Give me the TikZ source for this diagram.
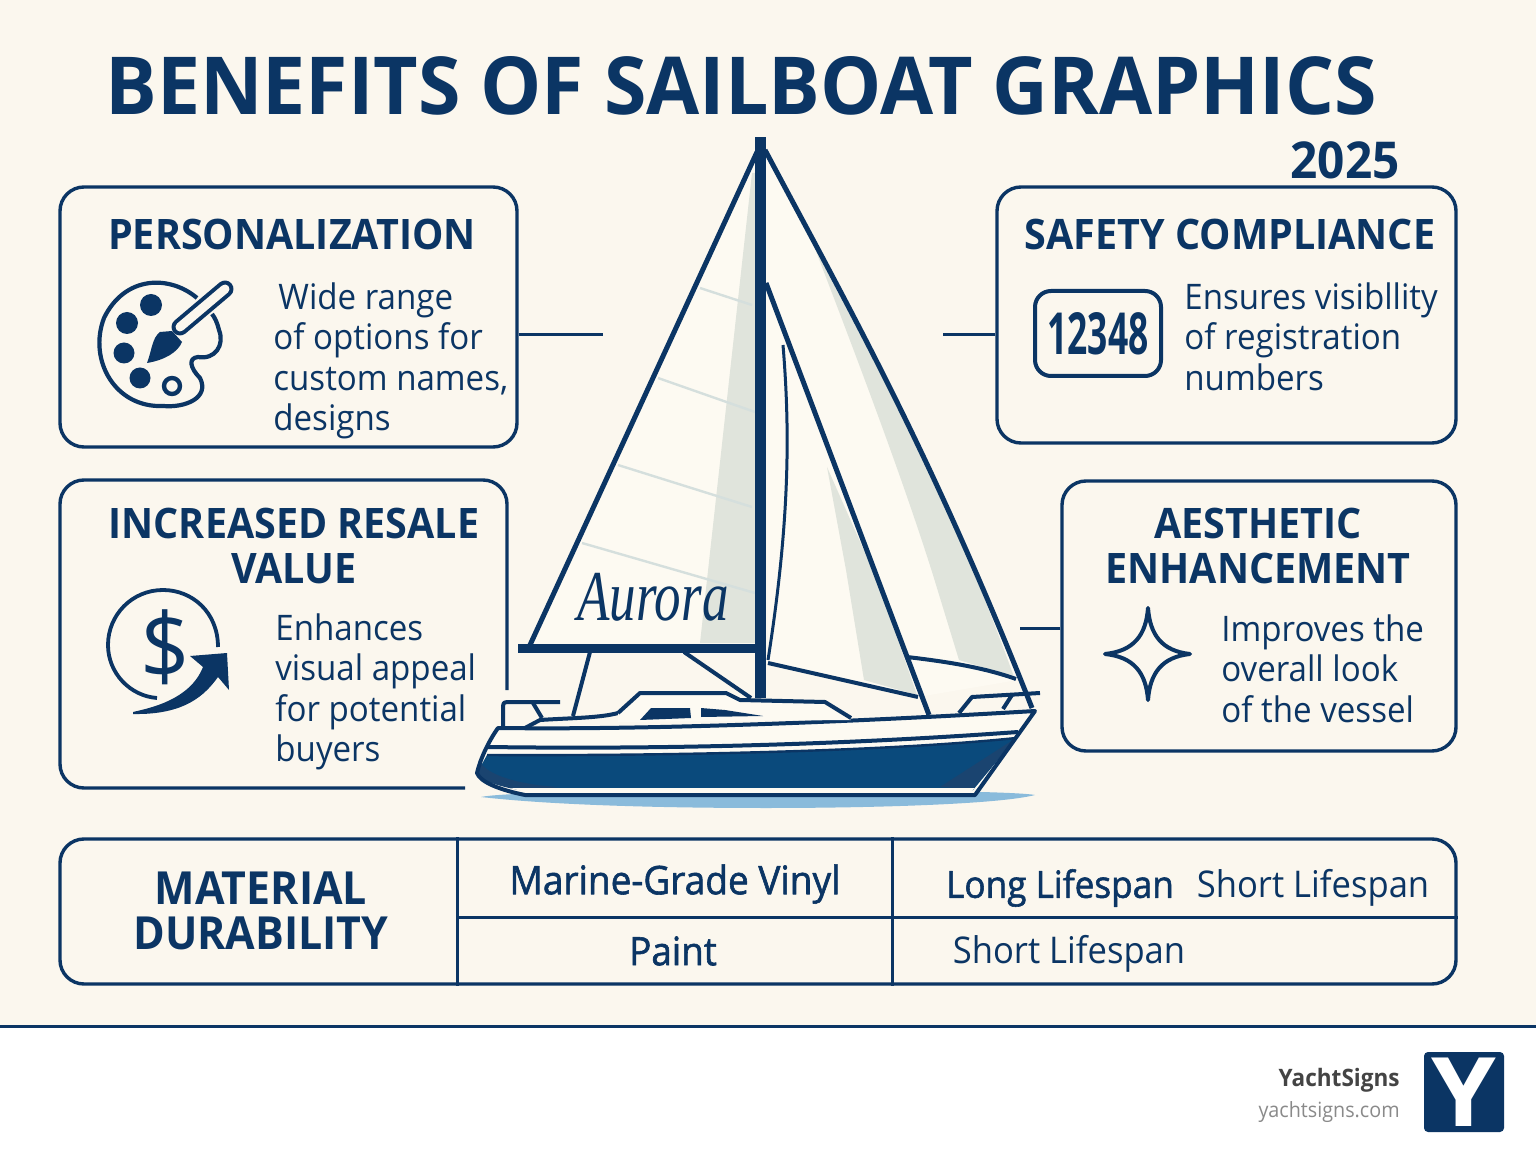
\documentclass[tikz,border=0pt]{standalone}
\usepackage{fontspec}
\setmainfont[FakeStretch=0.94]{Open Sans}
\newfontfamily\medfont[FakeStretch=0.94,FakeBold=1.5]{Open Sans}
\newfontfamily\namefont{Liberation Serif}
\usepackage{tikz}
\usetikzlibrary{calc}
\definecolor{navy}{HTML}{0B3564}
\definecolor{paper}{HTML}{FBF7EE}
\definecolor{sailwhite}{HTML}{FDFAF2}
\definecolor{sailshade}{HTML}{E0E4DC}
\definecolor{batten}{HTML}{D5DFDD}
\definecolor{hullblue}{HTML}{0A4A7C}
\definecolor{hulldark}{HTML}{1A4470}
\definecolor{water}{HTML}{8ABBDB}
\definecolor{footgrey}{HTML}{444444}
\definecolor{urlgrey}{HTML}{8A8A8A}

\begin{document}
\begin{tikzpicture}[x=0.5pt,y=-0.5pt,
  line join=round,
  panel/.style={draw=navy,line width=1.7pt,rounded corners=12pt,inner sep=0pt},
  panelline/.style={draw=navy,line width=1.7pt,rounded corners=12pt},
  stub/.style={draw=navy,line width=1.5pt},
  rope/.style={draw=navy,line width=2pt},
  heading/.style={font=\bfseries\fontsize{21}{22.5}\selectfont,text=navy,align=center,inner sep=0pt},
  bodytext/.style={font=\fontsize{17.6}{20.3}\selectfont,text=navy,align=left,anchor=north west,inner sep=0pt},
  celltext/.style={font=\fontsize{18.4}{20.3}\selectfont,text=navy,inner sep=0pt},
  medtext/.style={font=\medfont\fontsize{18.7}{20.3}\selectfont,text=navy,inner sep=0pt}]

  \useasboundingbox (0,0) rectangle (1536,1154);

  % Background
  \fill[paper] (0,0) rectangle (1536,1154);
  \fill[white] (0,1026) rectangle (1536,1154);
  \coordinate (ruleleft) at (0,1026);
  \coordinate (ruleright) at (1536,1026);
  \draw[navy,line width=1.5pt] (ruleleft) -- (ruleright);

  % Title
  \node[font=\bfseries\fontsize{40}{44}\selectfont,text=navy,xscale=1.024,inner sep=0pt] (title) at (741,86) {BENEFITS OF SAILBOAT GRAPHICS};
  \node[font=\bfseries\fontsize{25.4}{28}\selectfont,text=navy,inner sep=0pt] (year) at (1345,160) {2025};

  % Panels
  \node[panel,minimum width=228.5pt,minimum height=130pt] (personal) at (288.5,317) {};
  \node[panel,minimum width=229.5pt,minimum height=128pt] (safety) at (1226.5,315) {};
  \node[panel,minimum width=197pt,minimum height=135pt] (aesthetic) at (1259,616) {};
  \draw[panelline] (507,690) -- (507,480) -- (60,480) -- (60,788) -- (465,788);

  % Stubs towards the boat
  \coordinate (stubone) at (603,335);
  \coordinate (stubtwo) at (943,335);
  \coordinate (stubthree) at (1020,628);
  \draw[stub] (stubone -| personal.east) -- (stubone);
  \draw[stub] (stubtwo -| safety.west) -- (stubtwo);
  \draw[stub] (stubthree -| aesthetic.west) -- (stubthree);

  % Panel texts
  \node[heading] (personalhead) at (292,234) {PERSONALIZATION};
  \node[bodytext] (personaltext) at (273,282) {\hspace*{2.5pt}Wide range\\of options for\\custom names,\\designs};
  \node[heading] (safetyhead) at (1230,234) {SAFETY COMPLIANCE};
  \node[bodytext] (safetytext) at (1184,282) {Ensures visibllity\\of registration\\numbers};
  \node[heading] (resalehead) at (294,546) {INCREASED RESALE\\VALUE};
  \node[bodytext] (resaletext) at (275,613) {Enhances\\visual appeal\\for potential\\buyers};
  \node[heading] (aesthetichead) at (1258,546) {AESTHETIC\\ENHANCEMENT};
  \node[bodytext] (aesthetictext) at (1221,614) {Improves the\\overall look\\of the vessel};

  % Palette icon
  \draw[navy,line width=2.1pt,fill=none] (197,298) .. controls (170,275) and (125,275) .. (104,318)
    .. controls (88,360) and (115,408) .. (163,406)
    .. controls (185,408) and (210,398) .. (200,378)
    .. controls (190,368) and (188,358) .. (198,357)
    .. controls (215,360) and (225,345) .. (219,330)
    .. controls (217,322) and (215,318) .. (212,314);
  \fill[navy] (151,305) circle[radius=11];
  \fill[navy] (127,323) circle[radius=11];
  \fill[navy] (124,353) circle[radius=10.5];
  \fill[navy] (140,378) circle[radius=10.5];
  \draw[navy,line width=2.2pt,fill=paper] (172,386) circle[radius=8];
  \coordinate (brushlow) at (180,327);
  \coordinate (brushtop) at (225,289);
  \draw[navy,line width=8.5pt,line cap=round] (brushlow) -- (brushtop);
  \draw[paper,line width=4.5pt,line cap=round] (brushlow) -- (brushtop);
  \fill[navy] (147,363) .. controls (152,350) and (152,338) .. (160,332)
    -- (172,331) -- (182,342) .. controls (178,352) and (165,360) .. cycle;

  % Badge icon
  \node[draw=navy,line width=2pt,rounded corners=8pt,minimum width=63pt,minimum height=42.5pt,inner sep=0pt] (badge) at (1098,333.5) {};
  \node[font=\bfseries\fontsize{29}{32}\selectfont,text=navy,xscale=0.65,inner sep=0pt] (badgetext) at (badge) {12348};

  % Dollar icon
  \draw[navy,line width=1.9pt] (218,647) .. controls (218,612) and (192,590) .. (163,590)
    .. controls (132,590) and (108,615) .. (108,645)
    .. controls (108,673) and (130,696) .. (157,698);
  \node[font=\fontsize{46}{48}\selectfont,text=navy,inner sep=0pt] (dollar) at (165,647) {\$};
  \fill[navy] (133,712) .. controls (150,708) and (190,700) .. (203,667)
    -- (190,656) -- (227,653) -- (229,690) -- (218,677)
    .. controls (205,695) and (185,715) .. (133,714) -- cycle;

  % Star icon
  \draw[navy,line width=2pt] (1148,608) .. controls (1150,635) and (1162,651) .. (1190,654)
    .. controls (1162,657) and (1150,673) .. (1148,700)
    .. controls (1146,673) and (1134,657) .. (1105,654)
    .. controls (1134,651) and (1146,635) .. cycle;

  % Table
  \node[panel,minimum width=698pt,minimum height=72.5pt] (matbox) at (758,911.5) {};
  \coordinate (colone) at (457,0);
  \coordinate (coltwo) at (892,0);
  \coordinate (rowline) at (0,917);
  \draw[stub] (colone |- matbox.north) -- (colone |- matbox.south);
  \draw[stub] (coltwo |- matbox.north) -- (coltwo |- matbox.south);
  \draw[stub] (colone |- rowline) -- (rowline -| matbox.east);
  \node[heading,font=\bfseries\fontsize{22.8}{22.5}\selectfont] (mathead) at (261,911) {MATERIAL\\DURABILITY};
  \node[medtext,font=\medfont\fontsize{19.7}{20.3}\selectfont] (vinyl) at (675,884) {Marine-Grade Vinyl};
  \node[medtext,font=\medfont\fontsize{19.6}{20.3}\selectfont] (paint) at (673,951) {Paint};
  \node[medtext] (longlife) at (1060,888) {Long Lifespan};
  \node[celltext] (shortone) at (1313,888) {Short Lifespan};
  \node[celltext] (shorttwo) at (1069,954) {Short Lifespan};

  % Water
  \fill[water] (481,797) .. controls (560,806) and (680,808) .. (766,808)
    .. controls (880,808) and (1000,804) .. (1035,795) .. controls (1000,788) and (520,788) .. cycle;

  % Genoa
  \fill[sailwhite] (765,150) .. controls (850,310) and (930,450) .. (1018,680) -- (918,697) -- (768,663) -- (765,280) -- cycle;
  \fill[sailshade] (809,233) .. controls (850,340) and (900,470) .. (933,575) -- (959,660) -- (1014,677)
    .. controls (950,500) and (880,360) .. cycle;
  \fill[sailshade] (827,467) -- (846,570) -- (864,680) -- (917,695) -- (877,580) -- cycle;

  % Mainsail
  \fill[sailwhite] (757,152) -- (530,645) -- (756,645) -- cycle;
  \fill[sailshade] (752,173) -- (700,643) -- (756,643) -- (756,173) -- cycle;
  \foreach \xa/\ya/\xb/\yb in {700/288/752/305,658/378/755/412,618/465/752/507,582/543/755/593}
    \draw[batten,line width=1.2pt] (\xa,\ya) -- (\xb,\yb);

  % Rigging
  \draw[rope,line width=2.5pt] (757,152) -- (530,645);
  \draw[rope,line width=2.5pt] (765,150) .. controls (850,310) and (930,450) .. (1032,708);
  \draw[rope,line width=2.5pt] (766,283) -- (929,715);
  \draw[rope,line width=1.5pt] (783,345) .. controls (790,430) and (790,520) .. (768,660);
  \draw[rope] (907,657) .. controls (950,662) and (985,668) .. (1016,679);
  \draw[rope] (768,663) -- (918,697);
  \draw[rope] (590,652) -- (573,716);
  \draw[rope] (684,652) -- (751,698);
  \fill[navy] (755,137) rectangle (765.5,698);
  \fill[navy] (518,644) rectangle (765,653);

  % Mainsail name
  \node[font=\namefont\itshape\fontsize{26.5}{30}\selectfont,text=navy,yscale=1.35,inner sep=0pt] (boatname) at (653,597) {Aurora};

  % Hull
  \fill[sailwhite] (498,728) .. controls (650,730) and (850,722) .. (1035,711)
    -- (975,795) -- (525,795) .. controls (500,790) and (480,782) .. (477,773) .. controls (480,760) and (488,742) .. cycle;
  \fill[hullblue] (487,755) .. controls (700,756) and (900,750) .. (1016,738)
    -- (973,790) -- (525,790) .. controls (500,786) and (480,782) .. (477,773) -- cycle;
  \fill[hulldark] (1016,738) -- (940,787) -- (973,789) -- cycle;
  \fill[hulldark] (479,760) .. controls (485,775) and (520,785) .. (559,787) -- (525,791) .. controls (500,787) and (482,781) .. (477,773) -- cycle;
  \fill[sailwhite] (510,788) -- (975,788) -- (970,792) -- (525,792) -- cycle;
  \draw[rope] (498,728) .. controls (650,730) and (850,722) .. (1035,711)
    -- (975,795) -- (525,795) .. controls (500,790) and (480,782) .. (477,773) .. controls (480,760) and (488,742) .. cycle;
  \draw[rope] (488,747) .. controls (700,750) and (880,742) .. (1018,732);
  \draw[rope,line width=1.2pt] (487,755) .. controls (700,756) and (900,750) .. (1016,738);
  \draw[rope] (525,728) -- (540,720) .. controls (570,718) and (600,718) .. (618,713);

  % Cabin
  \fill[sailwhite] (618,713) -- (640,693) -- (726,693) -- (740,700) -- (825,702) -- (851,720) -- (618,722) -- cycle;
  \draw[rope] (618,713) -- (640,693) -- (726,693) -- (740,700) -- (825,702) -- (851,718);
  \fill[navy] (651,708) -- (690,708) -- (691,718) -- (640,720) -- cycle;
  \fill[navy] (701,708) -- (725,710) -- (763,716) -- (701,717) -- cycle;

  % Pulpit and pushpit
  \draw[rope] (503,727) -- (503,706) .. controls (503,703) and (504,702) .. (507,702) -- (560,702);
  \draw[rope] (533,703) -- (542,718);
  \draw[rope] (959,713) -- (972,697) -- (1040,693);
  \draw[rope] (1003,709) -- (1012,695);

  % Footer
  \node[font=\bfseries\fontsize{12}{14}\selectfont,text=footgrey,anchor=east,inner sep=0pt] (brand) at (1400,1080) {YachtSigns};
  \node[font=\fontsize{10.5}{13}\selectfont,text=urlgrey,anchor=east,inner sep=0pt] (brandurl) at (1400,1112) {yachtsigns.com};
  \node[fill=navy,rounded corners=2pt,minimum size=40pt,inner sep=0pt] (logo) at (1464,1092) {};
  \node[font=\bfseries\fontsize{48}{50}\selectfont,text=white,xscale=1.15,inner sep=0pt] (logoletter) at (logo) {Y};
\end{tikzpicture}
\end{document}
